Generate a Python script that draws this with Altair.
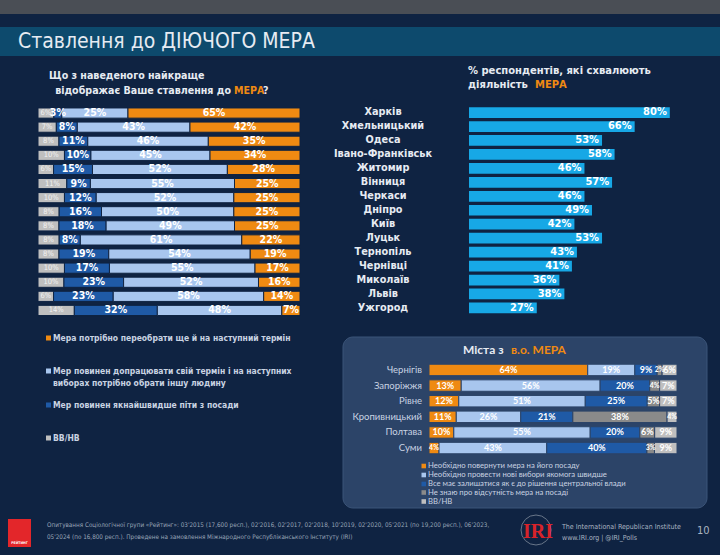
import altair as alt
import pandas as pd

# ---------------- data ----------------
cities = ["Харків", "Хмельницький", "Одеса", "Івано-Франківськ", "Житомир", "Вінниця",
          "Черкаси", "Дніпро", "Київ", "Луцьк", "Тернопіль", "Чернівці", "Миколаїв",
          "Львів", "Ужгород"]
approve = [80, 66, 53, 58, 46, 57, 46, 49, 42, 53, 43, 41, 36, 38, 27]

att_dkne = [6, 7, 8, 10, 6, 11, 10, 8, 8, 8, 8, 10, 10, 6, 14]
att_leave = [3, 8, 11, 10, 15, 9, 12, 16, 18, 8, 19, 17, 23, 23, 32]
att_finish = [25, 43, 46, 45, 52, 55, 52, 50, 49, 61, 54, 55, 52, 58, 48]
att_reelect = [65, 42, 35, 34, 28, 25, 25, 25, 25, 22, 19, 17, 16, 14, 7]

att_legend = [
    ["Мера  потрібно переобрати ще й на наступний термін"],
    ["Мер повинен допрацювати свій термін і на наступних", "виборах потрібно обрати іншу людину"],
    ["Мер повинен якнайшвидше піти з посади"],
    ["ВВ/НВ"],
]

acting_cities = ["Чернігів", "Запоріжжя", "Рівне", "Кропивницький", "Полтава", "Суми"]
act_return = [64, 13, 12, 11, 10, 4]
act_new = [19, 56, 51, 26, 55, 43]
act_stay = [9, 20, 25, 21, 20, 40]
act_dontknow = [2, 4, 5, 38, 6, 3]
act_dkne = [6, 7, 7, 4, 9, 9]
act_legend = [
    "Необхідно повернути мера на його посаду",
    "Необхідно провести нові вибори якомога швидше",
    "Все має залишатися як є до рішення центральної влади",
    "Не знаю про відсутність мера на посаді",
    "ВВ/НВ",
]

footer_lines = [
    "Опитування Соціологічної групи «Рейтинг»: 03'2015 (17,600 респ.), 02'2016, 02'2017, 02'2018, 10'2019, 02'2020, 05'2021 (по 19,200 респ.), 06'2023,",
    "05'2024 (по 16,800 респ.). Проведене на замовлення Міжнародного Республіканського Інституту (IRI)",
]

# ---------------- style ----------------
BG = "#0f2342"
TITLE_BAR = "#0d4a6d"
PANEL = "#2c4468"
ORANGE = "#ef8a12"
LBLUE = "#a8c6ee"
DBLUE = "#1f5aa6"
LGRAY = "#bfbfbf"
MGRAY = "#8a8a8a"
CYAN = "#17a8e6"
TXT = "#e6ebf2"
SOFT = "#c9d3e2"

F_HEAD = "DejaVu Sans Condensed, DejaVu Sans, sans-serif"
F_NARROW = "Liberation Sans Narrow, DejaVu Sans Condensed, sans-serif"
F_CAL = "Lato, Open Sans, sans-serif"

one = pd.DataFrame({"a": [0]})


def deco_text(txt, x, y, size, color, weight="normal", font=F_HEAD, align="left",
              baseline="middle"):
    return alt.Chart(one).mark_text(text=txt, align=align, baseline=baseline,
                                    fontSize=size, fontWeight=weight, font=font,
                                    color=color).encode(x=alt.value(x), y=alt.value(y))


def deco_rect(x, x2, y, y2, fill, radius=0, stroke=None):
    kw = dict(color=fill)
    if radius:
        kw["cornerRadius"] = radius
    if stroke:
        kw["stroke"] = stroke
        kw["strokeWidth"] = 1
    return alt.Chart(one).mark_rect(**kw).encode(
        x=alt.value(x), x2=alt.value(x2), y=alt.value(y), y2=alt.value(y2))


layers = []

# background pieces
layers.append(deco_rect(0, 720, 0, 14, "#4a4e55"))
layers.append(deco_rect(0, 720, 27, 56, TITLE_BAR))
layers.append(deco_text("Ставлення до ДІЮЧОГО МЕРА", 18, 42, 21, TXT, font=F_HEAD))

# ---------------- left stacked chart ----------------
att_keys = ["dk", "leave", "finish", "reelect"]
att_colors = [LGRAY, DBLUE, LBLUE, ORANGE]
rows = []
for i, c in enumerate(cities):
    for k, vals in enumerate([att_dkne, att_leave, att_finish, att_reelect]):
        rows.append({"city": c, "k": k, "key": att_keys[k], "v": vals[i], "lab": f"{vals[i]}%"})
df_att = pd.DataFrame(rows)


def att_y():
    return alt.Y("city:N", sort=cities, axis=None,
                 scale=alt.Scale(domain=cities, range=[106, 317.5], paddingInner=0.28,
                                 paddingOuter=0.14))


def att_xs(field):
    return alt.X(field, axis=None, scale=alt.Scale(domain=[0, 1], range=[38, 300],
                                                   nice=False, zero=False))


att_base = alt.Chart(df_att).transform_stack(
    stack="v", groupby=["city"], as_=["v0", "v1"], offset="normalize",
    sort=[alt.SortField("k", order="ascending")]
).transform_calculate(mid="(datum.v0 + datum.v1) / 2")

layers.append(att_base.mark_bar(stroke=BG, strokeWidth=1).encode(
    x=att_xs("v0:Q"), x2="v1:Q", y=att_y(),
    color=alt.Color("key:N", scale=alt.Scale(domain=att_keys, range=att_colors), legend=None)))
layers.append(att_base.transform_filter("datum.k == 0").mark_text(
    fontSize=7.5, font=F_HEAD, color="#f2f2f2", baseline="middle").encode(
    x=att_xs("mid:Q"), y=att_y(), text="lab:N"))
layers.append(att_base.transform_filter("datum.k > 0").mark_text(
    fontSize=10.5, font=F_HEAD, fontWeight="bold", color="#ffffff", baseline="middle").encode(
    x=att_xs("mid:Q"), y=att_y(), text="lab:N"))

# left header
layers.append(deco_text("Що з наведеного найкраще", 49, 76, 10.6, TXT, "bold"))
layers.append(deco_text("відображає Ваше ставлення до", 231, 91, 10.6, TXT, "bold", align="right"))
layers.append(deco_text("МЕРА", 234, 91, 10.6, ORANGE, "bold"))
layers.append(deco_text("?", 263, 91, 10.6, TXT, "bold"))

# left legend
leg_y = [[338], [371, 383], [405], [438]]
for lines, ys, col in zip(att_legend, leg_y, [ORANGE, LBLUE, DBLUE, LGRAY]):
    layers.append(deco_rect(46, 51, ys[0] - 2.5, ys[0] + 2.5, col))
    for ln, yy in zip(lines, ys):
        layers.append(deco_text(ln, 53, yy, 8.5, SOFT, "bold"))

# ---------------- right approval chart ----------------
df_app = pd.DataFrame({"city": cities, "v": approve, "lab": [f"{v}%" for v in approve]})
app_y = alt.Y("city:N", sort=cities, axis=None,
              scale=alt.Scale(domain=cities, range=[105.5, 315], paddingInner=0.23,
                              paddingOuter=0.12))
app_x = alt.X("v:Q", axis=None, scale=alt.Scale(domain=[0, 100], range=[469, 720], nice=False))
app_base = alt.Chart(df_app)
layers.append(app_base.mark_bar(color=CYAN).encode(x=app_x, y=app_y))
layers.append(app_base.mark_text(align="right", dx=-3, fontSize=11, fontWeight="bold",
                                 font=F_HEAD, color="#ffffff", baseline="middle").encode(
    x=app_x, y=app_y, text="lab:N"))
layers.append(app_base.mark_text(align="center", fontSize=10.8, fontWeight="bold",
                                 font=F_HEAD, color=TXT, baseline="middle").encode(
    x=alt.value(383), y=app_y, text="city:N"))

layers.append(deco_text("% респондентів, які схвалюють", 468, 71, 11.1, TXT, "bold"))
layers.append(deco_text("діяльність", 468, 85, 11.1, TXT, "bold"))
layers.append(deco_text("МЕРА", 535, 85, 11.1, ORANGE, "bold"))

# ---------------- inset panel ----------------
layers.append(deco_rect(343, 707, 337, 508, PANEL, radius=10, stroke="#3b5478"))
layers.append(deco_text("Міста з", 463, 350, 12, TXT, "bold", font=F_CAL))
layers.append(deco_text("в.о. МЕРА", 511, 350, 12, ORANGE, "bold", font=F_CAL))

act_keys = ["ret", "new", "stay", "dk", "na"]
act_colors = [ORANGE, LBLUE, DBLUE, MGRAY, LGRAY]
rows = []
for i, c in enumerate(acting_cities):
    for k, vals in enumerate([act_return, act_new, act_stay, act_dontknow, act_dkne]):
        rows.append({"city": c, "k": k, "key": act_keys[k], "v": vals[i], "lab": f"{vals[i]}%"})
df_act = pd.DataFrame(rows)


def act_y():
    return alt.Y("city:N", sort=acting_cities, axis=None,
                 scale=alt.Scale(domain=acting_cities, range=[362.2, 455.8],
                                 paddingInner=0.27, paddingOuter=0.13))


def act_xs(field):
    return alt.X(field, axis=None, scale=alt.Scale(domain=[0, 1], range=[429, 677],
                                                   nice=False, zero=False))


act_base = alt.Chart(df_act).transform_stack(
    stack="v", groupby=["city"], as_=["v0", "v1"], offset="normalize",
    sort=[alt.SortField("k", order="ascending")]
).transform_calculate(mid="(datum.v0 + datum.v1) / 2")
layers.append(act_base.mark_bar(stroke=PANEL, strokeWidth=1).encode(
    x=act_xs("v0:Q"), x2="v1:Q", y=act_y(),
    color=alt.Color("key:N", scale=alt.Scale(domain=act_keys, range=act_colors), legend=None)))
layers.append(act_base.transform_filter("datum.v >= 5").mark_text(
    fontSize=9, font=F_CAL, fontWeight="bold", color="#ffffff", baseline="middle").encode(
    x=act_xs("mid:Q"), y=act_y(), text="lab:N"))
layers.append(act_base.transform_filter("datum.v < 5").mark_text(
    fontSize=7, font=F_CAL, fontWeight="bold", color="#ffffff", baseline="middle").encode(
    x=act_xs("mid:Q"), y=act_y(), text="lab:N"))
df_actc = pd.DataFrame({"city": acting_cities})
layers.append(alt.Chart(df_actc).mark_text(align="right", fontSize=9.5, font=F_CAL,
                                           color=SOFT, baseline="middle").encode(
    x=alt.value(422), y=act_y(), text="city:N"))

for lab, col, yy in zip(act_legend, act_colors, [466, 475, 484, 492.5, 501.5]):
    layers.append(deco_rect(421.5, 426, yy - 2.3, yy + 2.3, col))
    layers.append(deco_text(lab, 428, yy, 7.7, SOFT, font=F_CAL))

# ---------------- footer ----------------
layers.append(deco_rect(8, 31, 519, 547, "#e3262a"))
layers.append(deco_text("РЕЙТИНГ", 19.5, 543, 3.5, "#ffffff", "bold", align="center"))
layers.append(deco_text(footer_lines[0], 47, 525, 6.3, "#9aa6b8", font=F_NARROW))
layers.append(deco_text(footer_lines[1], 47, 537, 6.3, "#9aa6b8", font=F_NARROW))
layers.append(alt.Chart(one).mark_point(shape="circle", size=900, filled=False,
                                        color="#8f9aa8", strokeWidth=1).encode(
    x=alt.value(536), y=alt.value(530)))
layers.append(deco_text("IRI", 538, 532, 20, "#d8232a", "bold", font="Liberation Serif",
                        align="center"))
layers.append(deco_text("The International Republican Institute", 562, 527, 7, "#a9b3c1",
                        font=F_NARROW))
layers.append(deco_text("www.IRI.org | @IRI_Polls", 562, 538, 7, "#a9b3c1", font=F_NARROW))
layers.append(deco_text("10", 697, 531, 11, "#aab4c0", font=F_NARROW))

chart = alt.layer(*layers).resolve_scale(
    x="independent", y="independent", color="independent"
).properties(
    width=720, height=555, padding=0, autosize=alt.AutoSizeParams(type="none"),
    background=BG
).configure_view(stroke=None)

chart.save("out.html", embed_options={"renderer": "svg", "actions": False})
